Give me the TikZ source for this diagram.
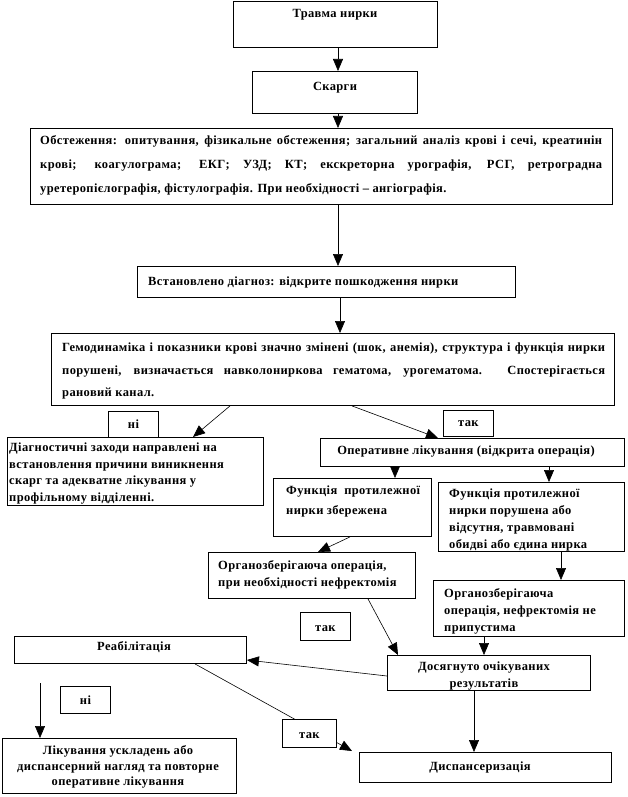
\documentclass[tikz,border=0pt]{standalone}
\usepackage{fontspec}
\setmainfont{Liberation Serif}[LetterSpace=3]
\usetikzlibrary{arrows.meta}
\begin{document}
\begin{tikzpicture}[x=1pt,y=-1pt,
  bx/.style={draw, line width=0.9pt, inner sep=0pt, anchor=north west, fill=white},
  tx/.style={inner sep=0pt, font=\fontsize{12.5}{16.5}\selectfont\bfseries},
  con/.style={line width=0.6pt, -{Triangle[length=12pt,width=10pt]}},
  ln/.style={line width=0.6pt}]
\useasboundingbox (0,0) rectangle (627,797);
\fill[white] (0,0) rectangle (627,797);
% boxes
\node[bx, minimum width=204, minimum height=46] (A) at (233,1) {};
\node[bx, minimum width=165, minimum height=42] (B) at (252,71) {};
\node[bx, minimum width=582, minimum height=76] (C) at (30,128) {};
\node[bx, minimum width=378, minimum height=31] (D) at (137,266) {};
\node[bx, minimum width=563, minimum height=72] (E) at (51,333) {};
\node[bx, minimum width=256, minimum height=68] (F) at (7,437) {};
\node[bx, minimum width=304, minimum height=28] (G) at (320,438) {};
\node[bx, minimum width=158, minimum height=58] (H) at (273,478) {};
\node[bx, minimum width=186, minimum height=69] (I) at (438,482) {};
\node[bx, minimum width=207, minimum height=46] (J) at (208,552) {};
\node[bx, minimum width=191, minimum height=56] (K) at (433,580) {};
\node[bx, minimum width=203, minimum height=35] (L) at (387,655) {};
\node[bx, minimum width=232, minimum height=27] (M) at (14,636) {};
\node[bx, minimum width=252, minimum height=30] (N) at (359,752) {};
\node[bx, minimum width=234, minimum height=55] (O) at (2,738) {};
% texts
\node[tx] (At) at (335,15) {Травма нирки};
\node[tx] (Bt) at (335,88) {Скарги};
\node[tx, anchor=north west, text width=562, align=justify, font=\fontsize{12.5}{24}\selectfont\bfseries] (Ct) at (40,135)
 {Обстеження: опитування, фізикальне обстеження; загальний аналіз крові і сечі, креатинін\linebreak
  крові; коагулограма; ЕКГ; УЗД; КТ; екскреторна урографія, РСГ, ретроградна\linebreak
  уретеропієлографія, фістулографія. При необхідності – ангіографія.};
\node[tx, anchor=west] (Dt) at (148,282) {Встановлено діагноз: відкрите пошкодження нирки};
\node[tx, anchor=north west, text width=543, align=justify, font=\fontsize{12.5}{22.5}\selectfont\bfseries] (Et) at (62,343)
 {Гемодинаміка і показники крові значно змінені (шок, анемія), структура і функція нирки\linebreak
  порушені, визначається навколониркова гематома, урогематома. Спостерігається\linebreak
  рановий канал.};
\node[tx, anchor=north west, align=left] (Ft) at (9,443)
 {Діагностичні заходи направлені на\\встановлення причини виникнення\\скарг та адекватне лікування у\\профільному відділенні.};
\node[tx] (Gt) at (466,452) {Оперативне лікування (відкрита операція)};
\node[tx, anchor=north west, align=left, font=\fontsize{12.5}{20}\selectfont\bfseries] (Ht) at (286,486)
 {Функція\ \ протилежної\\нирки збережена};
\node[tx, anchor=north west, align=left, font=\fontsize{12.5}{17}\selectfont\bfseries] (It) at (449,489)
 {Функція протилежної\\нирки порушена або\\відсутня, травмовані\\обидві або єдина нирка};
\node[tx, anchor=north west, align=left, font=\fontsize{12.5}{17}\selectfont\bfseries] (Jt) at (218,560)
 {Органозберігаюча операція,\\при необхідності нефректомія};
\node[tx, anchor=north west, align=left, font=\fontsize{12.5}{17}\selectfont\bfseries] (Kt) at (444,588)
 {Органозберігаюча\\операція, нефректомія не\\припустима};
\node[tx, align=center] (Lt) at (484,676) {Досягнуто очікуваних\\результатів};
\node[tx] (Mt) at (134,647) {Реабілітація};
\node[tx] (Nt) at (480,767) {Диспансеризація};
\node[tx, align=center, font=\fontsize{12.5}{15.5}\selectfont\bfseries] (Ot) at (118,767)
 {Лікування ускладень або\\диспансерний нагляд та повторне\\оперативне лікування};
% connectors
\draw[con] (338,0 |- A.south) -- (338,0 |- B.north);
\draw[con] (338,0 |- B.south) -- (338,0 |- C.north);
\draw[con] (338,0 |- C.south) -- (338,0 |- D.north);
\draw[con] (340,0 |- D.south) -- (340,0 |- E.north);
\draw[con] (230,0 |- E.south) -- (193,0 |- F.north);
\draw[con] (352,0 |- E.south) -- (438,0 |- G.north);
\draw[con] (395,0 |- G.south) -- (395,0 |- H.north);
\draw[con] (549,0 |- G.south) -- (549,0 |- I.north);
\draw[con] (350,0 |- H.south) -- (318,0 |- J.north);
\draw[con] (561,0 |- I.south) -- (561,0 |- K.north);
\draw[con] (368,0 |- J.south) -- (398,0 |- L.north);
\draw[con] (484,0 |- K.south) -- (484,0 |- L.north);
\draw[con] (L.west |- 0,676) -- (M.east |- 0,660);
\coordinate (Ntip) at (352,751);
\draw[con] (195,0 |- M.south) -- (Ntip);
\draw[con] (474,0 |- L.south) -- (474,0 |- N.north);
\coordinate (Ostart) at (40,683);
\draw[con] (Ostart) -- (40,0 |- O.north);
% yes/no labels
\node[bx, minimum width=50, minimum height=26] (no1) at (108,411) {};
\node[tx] (no1t) at (no1) {ні};
\node[bx, minimum width=50, minimum height=26] (yes1) at (443,410) {};
\node[tx] (yes1t) at (yes1) {так};
\node[bx, minimum width=50, minimum height=28] (yes2) at (300,612) {};
\node[tx] (yes2t) at ([yshift=-2pt]yes2.center) {так};
\node[bx, minimum width=54, minimum height=28] (yes3) at (282,719) {};
\node[tx] (yes3t) at ([yshift=-2pt]yes3.center) {так};
\node[bx, minimum width=50, minimum height=27] (no2) at (60,686) {};
\node[tx] (no2t) at (no2) {ні};
\end{tikzpicture}
\end{document}
